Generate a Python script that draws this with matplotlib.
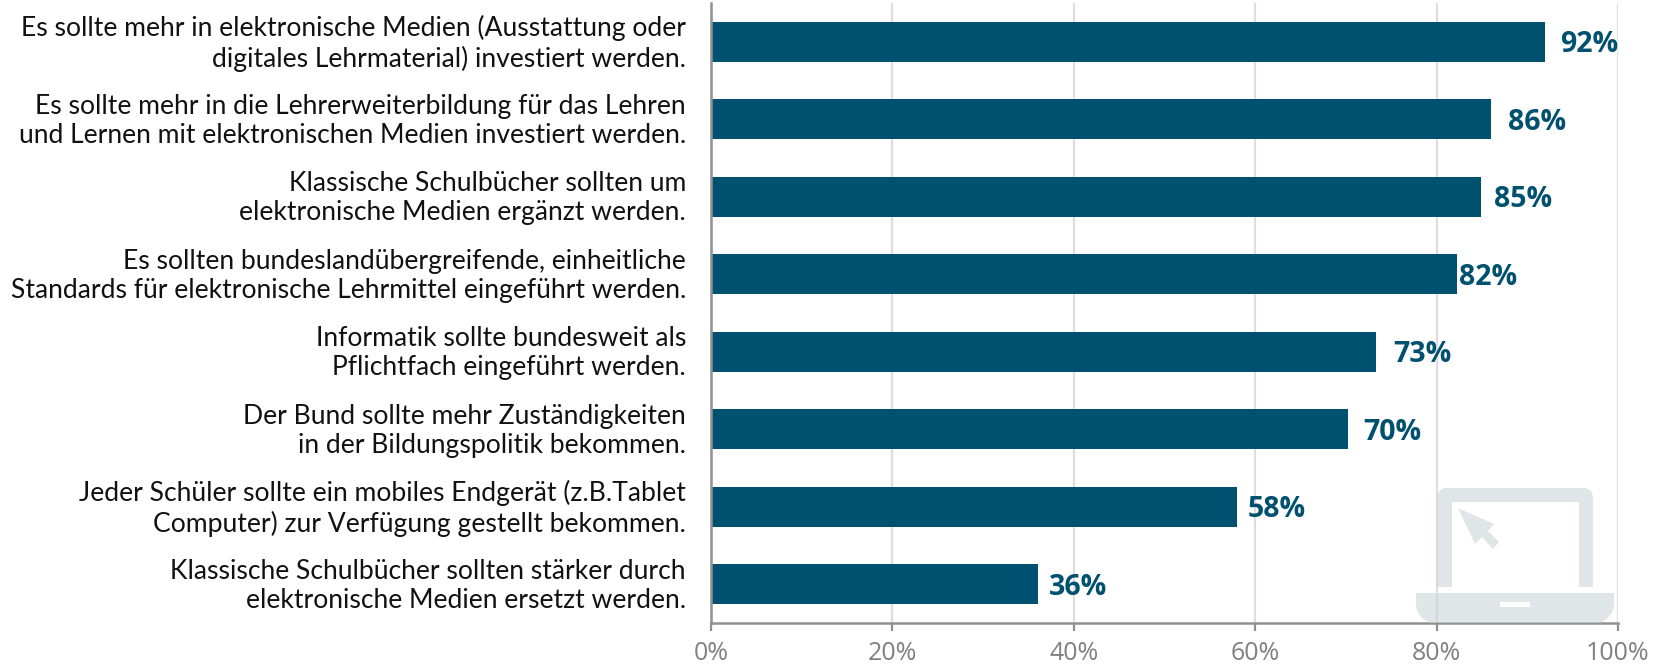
import matplotlib
matplotlib.use("Agg")
import matplotlib.pyplot as plt
from matplotlib.patches import Polygon
from matplotlib.transforms import ScaledTranslation

categories = [
    "Es sollte mehr in elektronische Medien (Ausstattung oder\ndigitales Lehrmaterial) investiert werden.",
    "Es sollte mehr in die Lehrerweiterbildung für das Lehren\nund Lernen mit elektronischen Medien investiert werden.",
    "Klassische Schulbücher sollten um\nelektronische Medien ergänzt werden.",
    "Es sollten bundeslandübergreifende, einheitliche\nStandards für elektronische Lehrmittel eingeführt werden.",
    "Informatik sollte bundesweit als\nPflichtfach eingeführt werden.",
    "Der Bund sollte mehr Zuständigkeiten\nin der Bildungspolitik bekommen.",
    "Jeder Schüler sollte ein mobiles Endgerät (z.B.Tablet\nComputer) zur Verfügung gestellt bekommen.",
    "Klassische Schulbücher sollten stärker durch\nelektronische Medien ersetzt werden.",
]
values = [92, 86, 84.9, 82.2, 73.3, 70.2, 58, 36]
value_labels = ["92%", "86%", "85%", "82%", "73%", "70%", "58%", "36%"]
xticks = [0, 20, 40, 60, 80, 100]

W, H = 1661, 664
BAR = "#00506f"
label_gaps = [15, 17, 13, 2, 17, 16, 11, 11]
plt.rcParams["font.family"] = ["Lato", "DejaVu Sans"]

fig = plt.figure(figsize=(W / 100, H / 100), dpi=100, facecolor="white")
ax = fig.add_axes([711 / W, 1 - 623 / H, 907 / W, 620 / H])
ax.set_xlim(0, 100)
ax.set_ylim(7.5, -0.5)
ax.set_axisbelow(True)
ax.grid(axis="x", color="#dedede", lw=1.6)
ax.barh(range(len(values)), values, height=0.52, color=BAR, zorder=2)
for i, (v, lab, gap) in enumerate(zip(values, value_labels, label_gaps)):
    ax.annotate(lab, (v, i), xytext=(gap, -3), textcoords="offset pixels",
                va="center", ha="left", fontsize=20.5, fontweight="bold",
                color=BAR, family=["Open Sans", "DejaVu Sans"])
ax.set_xticks(xticks, [f"{t}%" for t in xticks], fontsize=18, color="#808080",
              family=["Open Sans", "DejaVu Sans"])
ax.set_yticks(range(len(values)), categories, fontsize=19.05, color="#111111",
              linespacing=1.21, ha="right")
ax.tick_params(axis="x", length=6, width=1.6, color="#909090", pad=7)
ax.tick_params(axis="y", length=0, pad=18)
for lbl in ax.get_yticklabels():
    lbl.set_transform(lbl.get_transform() + ScaledTranslation(0, 3 / 100, fig.dpi_scale_trans))
for s in ("top", "right"):
    ax.spines[s].set_visible(False)
for s in ("left", "bottom"):
    ax.spines[s].set_color("#909090")
    ax.spines[s].set_linewidth(1.8)

# decorative laptop icon, placed in figure pixels
def P(x, y):
    return (x / W, 1 - y / H)
ICON = "#c8d3d6"
kw = dict(transform=fig.transFigure, facecolor=ICON, edgecolor="none", alpha=0.55, zorder=5)
frame = [(1437, 587), (1437, 496), (1439, 491), (1444, 488), (1586, 488), (1591, 491), (1593, 496), (1593, 587),
         (1579, 587), (1579, 502), (1452, 502), (1452, 587)]
base = [(1416, 593), (1614, 593), (1614, 606), (1612, 613), (1607, 619), (1600, 623),
        (1430, 623), (1423, 619), (1418, 613), (1416, 606)]
cursor = [(1458, 508), (1494, 524), (1488, 531), (1499, 542), (1493, 549), (1482, 537), (1475, 544)]
fig.add_artist(Polygon([P(*p) for p in frame], **kw))
fig.add_artist(Polygon([P(*p) for p in base], **kw))
fig.add_artist(Polygon([P(*p) for p in cursor], **kw))
fig.add_artist(Polygon([P(*p) for p in [(1500, 602), (1530, 602), (1530, 607), (1500, 607)]],
                       transform=fig.transFigure, facecolor="white", edgecolor="none", zorder=6))
fig.savefig("out.png", dpi=100)
